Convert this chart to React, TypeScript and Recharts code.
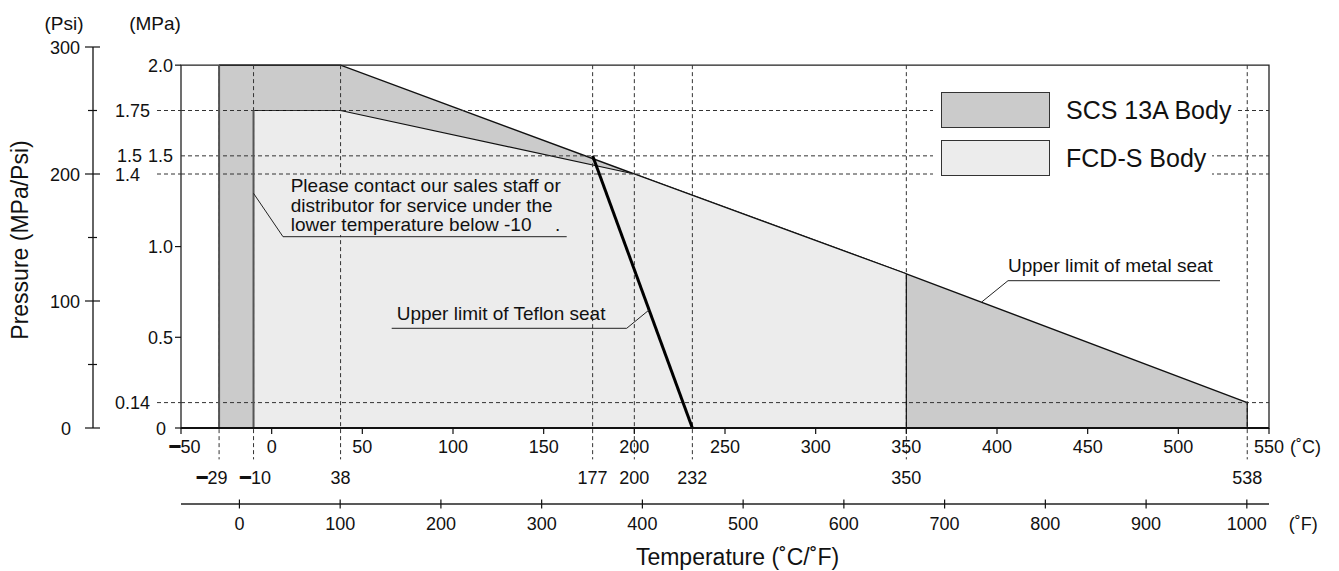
import React from "react";
import { ComposedChart, Area, Line, XAxis, YAxis, ReferenceLine, ReferenceArea, Legend } from "recharts";

const FONT = '"Liberation Sans", Arial, Helvetica, sans-serif';

// SCS 13A body rating (°C / MPa)
const scsTemp = [-29, 38, 200, 350, 538];
const scsPressure = [2.0, 2.0, 1.4, 0.85, 0.14];

// FCD-S body rating
const fcdTemp = [-10, 38, 200, 350];
const fcdPressure = [1.75, 1.75, 1.4, 0.85];

// upper limit of the Teflon seat
const teflonTemp = [177, 232];
const teflonPressure = [1.5, 0];

const celsiusTicks = [-50, 0, 50, 100, 150, 200, 250, 300, 350, 400, 450, 500, 550];
const markTemps = [-29, -10, 38, 177, 200, 232, 350, 538];
const fahrenheitTicks = [0, 100, 200, 300, 400, 500, 600, 700, 800, 900, 1000];
const mpaTicks = [0, 0.14, 0.5, 1.0, 1.4, 1.5, 1.75, 2.0];
const mpaLabels = ["0", "0.14", "0.5", "1.0", "1.4", "1.5", "1.75", "2.0"];
const psiTicks = [0, 50, 100, 150, 200, 250, 300];
const dashedPressures = [1.75, 1.5, 1.4, 0.14];

const legendNames = ["SCS 13A Body", "FCD-S Body"];
const legendColors = ["#cbcbcb", "#ececec"];

const valueAt = (temps: number[], values: number[], t: number) => {
  const i = temps.indexOf(t);
  return i < 0 ? null : values[i];
};

const allTemps = Array.from(new Set([...scsTemp, ...fcdTemp, ...teflonTemp])).sort((a, b) => a - b);
const chartData = allTemps.map((t) => ({
  t,
  scs: valueAt(scsTemp, scsPressure, t),
  fcd: valueAt(fcdTemp, fcdPressure, t),
  teflon: valueAt(teflonTemp, teflonPressure, t),
}));

const last = (a: number[]) => a[a.length - 1];
const edges = [
  { t: scsTemp[0], top: scsPressure[0], color: "#555", w: 2 },
  { t: fcdTemp[0], top: fcdPressure[0], color: "#555", w: 2 },
  { t: last(fcdTemp), top: last(fcdPressure), color: "#111", w: 1.2 },
  { t: last(scsTemp), top: last(scsPressure), color: "#111", w: 1.2 },
];

const GRID_BOTTOM = -0.173; // dashed verticals run a little below the axis
const DASH = "4 3";
const TXT = "#111";

// heavy minus sign like the original drawing
const Minus = () => <tspan fontFamily='"DejaVu Sans", sans-serif'>━</tspan>;

const MpaTick = ({ x, y, payload }: any) => {
  const v = payload.value;
  const label = mpaLabels[mpaTicks.indexOf(v)];
  const dashed = v === 1.75 || v === 1.4 || v === 0.14;
  if (dashed) {
    return (
      <g>
        <text x={x - 66} y={y + 6.5} fontSize={18} fontFamily={FONT} fill={TXT}>{label}</text>
        <line x1={x - 24} x2={x} y1={y} y2={y} stroke="#333" strokeDasharray={DASH} />
      </g>
    );
  }
  if (v === 1.5) {
    return (
      <g>
        <text x={x - 64} y={y + 6.5} fontSize={18} fontFamily={FONT} fill={TXT}>{label}</text>
        <text x={x - 8} y={y + 6.5} fontSize={18} fontFamily={FONT} fill={TXT} textAnchor="end">{label}</text>
      </g>
    );
  }
  return (
    <g>
      <text x={v === 0 ? x - 15 : x - 8} y={y + 6.5} fontSize={18} fontFamily={FONT} fill={TXT} textAnchor="end">{label}</text>
      <line x1={x - 6} x2={x} y1={y} y2={y} stroke="#111" strokeWidth={1.2} />
    </g>
  );
};

const PsiTick = ({ x, y, payload }: any) => {
  const v = payload.value;
  const major = v % 100 === 0;
  return (
    <g>
      <line x1={major ? x - 8 : x - 5} x2={major ? x + 7 : x + 4} y1={y} y2={y} stroke="#111" strokeWidth={1.2} />
      {major && (
        <text x={v === 0 ? x - 22 : x - 13} y={y + 6.5} fontSize={18} fontFamily={FONT} fill={TXT} textAnchor="end">{v}</text>
      )}
    </g>
  );
};

const CelsiusTick = ({ x, y, payload }: any) => {
  const v = payload.value;
  return (
    <g>
      <line x1={x} x2={x} y1={y} y2={y + 6} stroke="#111" strokeWidth={1.2} />
      {v < 0 ? (
        <text x={x + 4} y={y + 25} fontSize={18} fontFamily={FONT} fill={TXT} textAnchor="middle">
          <Minus />{Math.abs(v)}
        </text>
      ) : (
        <text x={x} y={y + 25} fontSize={18} fontFamily={FONT} fill={TXT} textAnchor="middle">{v}</text>
      )}
      {v === 550 && (
        <text x={x + 21} y={y + 25} fontSize={18} fontFamily={FONT} fill={TXT}>(˚C)</text>
      )}
    </g>
  );
};

const MarkTick = ({ x, y, payload }: any) => {
  const v = payload.value;
  return v < 0 ? (
    <text x={v === -29 ? x - 7 : x + 2} y={y + 22} fontSize={18} fontFamily={FONT} fill={TXT} textAnchor="middle">
      <Minus />{Math.abs(v)}
    </text>
  ) : (
    <text x={x} y={y + 22} fontSize={18} fontFamily={FONT} fill={TXT} textAnchor="middle">{v}</text>
  );
};

const FahrenheitTick = ({ x, y, payload }: any) => {
  const v = payload.value;
  return (
    <g>
      <line x1={x} x2={x} y1={y - 4.5} y2={y + 4.5} stroke="#111" strokeWidth={1.2} />
      <text x={x} y={y + 25.7} fontSize={18} fontFamily={FONT} fill={TXT} textAnchor="middle">{v}</text>
      {v === 1000 && (
        <text x={x + 42} y={y + 25.7} fontSize={18} fontFamily={FONT} fill={TXT}>(˚F)</text>
      )}
    </g>
  );
};

const renderLegend = () => (
  <div style={{ position: "relative", width: 304, height: 100, fontFamily: FONT }}>
    {legendNames.map((name, i) => (
      <div
        key={name}
        style={{
          position: "absolute",
          left: 0,
          top: i * 50,
          width: i === 0 ? 304 : 279,
          height: 50,
          background: "#fff",
        }}
      >
        <div
          style={{
            position: "absolute",
            left: 8,
            top: i === 0 ? 7.5 : 6,
            width: 107,
            height: 34,
            background: legendColors[i],
            border: "1px solid #333",
          }}
        />
        <div
          style={{
            position: "absolute",
            left: 133,
            top: i === 0 ? 11 : 9,
            fontSize: 25,
            lineHeight: "30px",
            color: TXT,
            whiteSpace: "nowrap",
          }}
        >
          {name}
        </div>
      </div>
    ))}
  </div>
);

const txt = { fontFamily: FONT, fill: TXT } as const;

export default function App() {
  return (
    <div style={{ width: 1331, height: 563, background: "#fff", position: "relative" }}>
      <ComposedChart width={1331} height={563} data={chartData} margin={{ top: 39, right: 70, bottom: 27, left: 5 }}>
        <XAxis xAxisId="a_c" dataKey="t" type="number" domain={[-50, 550]} ticks={celsiusTicks} interval={0}
          allowDataOverflow height={34} tickSize={0} tickMargin={0} tickLine={false}
          axisLine={{ stroke: "#111", strokeWidth: 2 }} tick={CelsiusTick} />
        <XAxis xAxisId="b_marks" dataKey="t" type="number" domain={[-50, 550]} ticks={markTemps} interval={0}
          allowDataOverflow height={42} tickSize={0} tickMargin={0} tickLine={false} axisLine={false} tick={MarkTick} />
        <XAxis xAxisId="c_f" dataKey="t" type="number" domain={[-58, 1022]} ticks={fahrenheitTicks} interval={0}
          allowDataOverflow height={40} tickSize={0} tickMargin={0} tickLine={false}
          axisLine={{ stroke: "#222", strokeWidth: 1.3 }} tick={FahrenheitTick} />
        <YAxis yAxisId="mpa" type="number" domain={[0, 2.1]} ticks={mpaTicks} interval={0} allowDataOverflow
          width={88} tickSize={0} tickMargin={0} tickLine={false} axisLine={false} tick={MpaTick} />
        <YAxis yAxisId="psi" type="number" domain={[0, 300]} ticks={psiTicks} interval={0} allowDataOverflow
          width={80} tickSize={0} tickMargin={0} tickLine={false}
          axisLine={{ stroke: "#111", strokeWidth: 1.3 }} tick={PsiTick} />

        <Area xAxisId="a_c" yAxisId="mpa" dataKey="scs" name="SCS 13A Body" type="linear" connectNulls
          fill={legendColors[0]} fillOpacity={1} stroke="#111" strokeWidth={1.4} dot={false} activeDot={false}
          isAnimationActive={false} />
        <Area xAxisId="a_c" yAxisId="mpa" dataKey="fcd" name="FCD-S Body" type="linear" connectNulls
          fill={legendColors[1]} fillOpacity={1} stroke="#111" strokeWidth={1.2} dot={false} activeDot={false}
          isAnimationActive={false} />

        {dashedPressures.map((p) => (
          <ReferenceLine key={"h" + p} xAxisId="a_c" yAxisId="mpa" y={p} stroke="#333" strokeWidth={1}
            strokeDasharray={DASH} ifOverflow="visible" />
        ))}
        {markTemps.map((t) => (
          <ReferenceLine key={"v" + t} xAxisId="a_c" yAxisId="mpa" ifOverflow="visible"
            segment={[{ x: t, y: 2.0 }, { x: t, y: GRID_BOTTOM }]} stroke="#333" strokeWidth={1}
            strokeDasharray={DASH} />
        ))}
        {edges.map((e) => (
          <ReferenceLine key={"e" + e.t} xAxisId="a_c" yAxisId="mpa" ifOverflow="visible"
            segment={[{ x: e.t, y: 0 }, { x: e.t, y: e.top }]} stroke={e.color} strokeWidth={e.w} />
        ))}
        <ReferenceArea xAxisId="a_c" yAxisId="mpa" x1={-50} x2={550} y1={0} y2={2.0} fill="none"
          stroke="#222" strokeWidth={1.3} ifOverflow="visible" />

        <Line xAxisId="a_c" yAxisId="mpa" dataKey="teflon" name="Teflon seat" type="linear" connectNulls
          stroke="#000" strokeWidth={3} dot={false} activeDot={false} isAnimationActive={false} legendType="none" />

        <Legend content={renderLegend} layout="vertical" align="center" verticalAlign="middle"
          wrapperStyle={{ position: "absolute", left: 925, top: 76, width: 304, height: 100 }} />
      </ComposedChart>

      {/* titles and callouts, drawn over the plot */}
      <svg width={1331} height={563} style={{ position: "absolute", left: 0, top: 0, pointerEvents: "none" }}>
        <text x={56} y={22} fontSize={19} textAnchor="middle" {...txt}>(Psi)</text>
        <text x={147} y={22} fontSize={19} textAnchor="middle" {...txt}>(MPa)</text>
        <text x={20} y={232} fontSize={23} textAnchor="middle" transform="rotate(-90 20 232)" {...txt}>
          Pressure (MPa/Psi)
        </text>
        <text x={729.5} y={557} fontSize={23} textAnchor="middle" {...txt}>Temperature (˚C/˚F)</text>

        <rect x={279} y={167} width={278} height={60} fill={legendColors[1]} />
        <text x={282.7} y={184} fontSize={19} {...txt}>Please contact our sales staff or</text>
        <text x={282.7} y={203.5} fontSize={19} {...txt}>distributor for service under the</text>
        <text x={282.7} y={223} fontSize={19} {...txt}>lower temperature below -10</text>
        <text x={547} y={223} fontSize={19} {...txt}>.</text>
        <polyline points="245.5,185.3 275,228.7 558.7,228.7" fill="none" stroke="#222" strokeWidth={1} />

        <text x={388.7} y={312} fontSize={19} {...txt}>Upper limit of Teflon seat</text>
        <polyline points="383.7,320.3 618.7,320.3 641,302" fill="none" stroke="#222" strokeWidth={1} />

        <text x={1000} y={264} fontSize={19} {...txt}>Upper limit of metal seat</text>
        <polyline points="1212,272.7 1000,272.7 973.7,294" fill="none" stroke="#222" strokeWidth={1} />
      </svg>
    </div>
  );
}
